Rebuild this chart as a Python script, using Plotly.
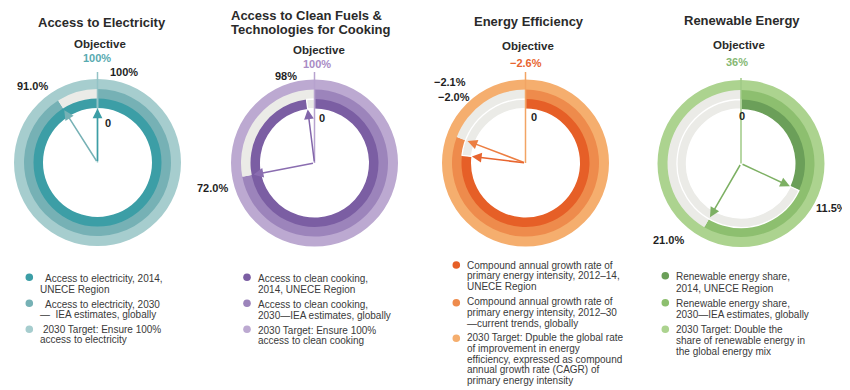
import math
import plotly.graph_objects as go

W, H = 850, 390
OFF = 8  # the page body margin: screen pixel = figure pixel + OFF
FONT = "Liberation Sans, Arial, sans-serif"

# ---------------- data ----------------
PANEL_TITLES = ["Access to Electricity",
                "Access to Clean Fuels &|Technologies for Cooking",
                "Energy Efficiency",
                "Renewable Energy"]
VALUE_2014 = [100.0, 98.0, -2.0, 11.5]      # inner ring (UNECE region)
VALUE_2030 = [91.0, 72.0, -2.1, 21.0]       # middle ring (global estimates / trends)
TARGET = [100.0, 100.0, -2.6, 36.0]         # outer ring (2030 objective)
LABEL_2014 = ["100%", "98%", "\u22122.0%", "11.5%"]
LABEL_2030 = ["91.0%", "72.0%", "\u22122.1%", "21.0%"]
LABEL_TARGET = ["100%", "100%", "\u22122.6%", "36%"]
START_LABEL = ["0", "0", "0", "0"]
LEGEND_TEXT = [
    [["Access to electricity, 2014,", "UNECE Region"],
     ["Access to electricity, 2030", "\u2014  IEA estimates, globally"],
     ["2030 Target: Ensure 100%", "access to electricity"]],
    [["Access to clean cooking,", "2014, UNECE Region"],
     ["Access to clean cooking,", "2030\u2014IEA estimates, globally"],
     ["2030 Target: Ensure 100%", "access to clean cooking"]],
    [["Compound annual growth rate of", "primary energy intensity, 2012\u201314,", "UNECE Region"],
     ["Compound annual growth rate of", "primary energy intensity, 2012\u201330", "\u2014current trends, globally"],
     ["2030 Target: Dpuble the global rate", "of improvement in energy",
      "efficiency, expressed as compound", "annual growth rate (CAGR) of",
      "primary energy intensity"]],
    [["Renewable energy share,", "2014, UNECE Region"],
     ["Renewable energy share,", "2030\u2014IEA estimates, globally"],
     ["2030 Target: Double the", "share of renewable energy in", "the global energy mix"]],
]

# ---------------- style / layout ----------------
COL_INNER = ["#3c9ea6", "#7b5ea3", "#e65f27", "#6b9f59"]
COL_MIDDLE = ["#76b1b5", "#9c84bb", "#ee8b4c", "#8dbf6f"]
COL_OUTER = ["#a6cdce", "#bca9d1", "#f5ae6e", "#acd38f"]
COL_OBJ_TEXT = ["#58aab0", "#a98bc5", "#e8652f", "#86b873"]
COL_LINE = ["#93c3c6", "#b7a2ce", "#f2a464", "#9fca86"]
ARROW_INNER = ["#3c9ea6", "#8266aa", "#e8652f", "#7db063"]
ARROW_MIDDLE = ["#76b1b5", "#8a6db0", "#ec7e42", "#7db063"]
GAP = "#ebebe7"
CENTERS = [(97.5, 162.5), (314.5, 163.0), (525.5, 163.0), (741.0, 163.5)]
R_OUT, R_MID, R_IN, R_HOLE = 83.5, 73.5, 64.0, 54.5
TIP_INNER, TIP_MIDDLE = 54.0, 62.0
LINE_TOP = [72, 72, 72, 78]

TITLE_POS = [[(102, 22.5, "center")], [(229, 15, "left"), (229, 29.5, "left")],
             [(529, 21, "center")], [(742, 20.5, "center")]]
OBJ_POS = [(100, 43.5), (318.5, 50), (528, 46), (739, 45)]
OBJ_VAL_POS = [(96.5, 57.5), (316.5, 64), (526, 62.5), (736.5, 62)]
L2014_POS = [(124, 72), (286, 75.5), (454, 97), (831, 208)]
L2030_POS = [(32, 86), (212, 188), (450, 82), (668, 240)]
START_POS = [(108, 122.5), (322, 117.5), (534, 117), (742, 116)]

SWATCH_X = [29.3, 247, 456.3, 665.3]
SWATCH_Y = [[277.3, 303.3, 329.3], [277.3, 303.3, 329.3],
            [265, 302.7, 338.3], [275.7, 302.7, 329.3]]
LEG_X = [[[43.3, 38.3], [42.7, 38.3], [40.7, 38.3]],
         [[256, 256], [256, 256], [256, 256]],
         [[464.7] * 3, [464.7] * 3, [464.7] * 5],
         [[673.7] * 2, [673.7] * 2, [673.7] * 3]]
LEG_Y = [[[278.3, 289.3], [304.3, 314.5], [329.5, 339.5]],
         [[278.3, 289.3], [304.3, 315], [330, 340.7]],
         [[265, 275.7, 286.3], [301.7, 312.3, 323], [337.7, 348.3, 359, 369.7, 380.3]],
         [[276.7, 288.7], [303.3, 314], [329.7, 340.3, 351]]]

fig = go.Figure()


def ring(cx, cy, r_in, r_out, value, total, color, gap_line=0.0):
    v = abs(value)
    t = abs(total)
    fx, fy = cx - OFF, cy - OFF
    return go.Pie(
        values=[v, max(t - v, 0.0)],
        marker=dict(colors=[color, GAP], line=dict(color="white", width=[0, gap_line])),
        hole=r_in / r_out,
        domain=dict(x=[(fx - r_out) / W, (fx + r_out) / W],
                    y=[1 - (fy + r_out) / H, 1 - (fy - r_out) / H]),
        sort=False, direction="clockwise", rotation=0,
        textinfo="none", hoverinfo="skip", showlegend=False,
    )


shapes = []
annotations = []


def text(x, y, s, size, color, bold=False, anchor="center"):
    annotations.append(dict(
        x=x, y=y, xref="x", yref="y", text=("<b>%s</b>" % s) if bold else s,
        showarrow=False, xanchor=anchor, yanchor="middle",
        font=dict(family=FONT, size=size, color=color)))


for i in range(4):
    cx, cy = CENTERS[i]
    # rings: outer (target), middle (2030), inner (2014); slight overlap to avoid seams
    fig.add_trace(ring(cx, cy, R_MID - 1.0, R_OUT, TARGET[i], TARGET[i], COL_OUTER[i]))
    fig.add_trace(ring(cx, cy, R_IN - 1.0, R_MID, VALUE_2030[i], TARGET[i], COL_MIDDLE[i]))
    fig.add_trace(ring(cx, cy, R_HOLE, R_IN, VALUE_2014[i], TARGET[i], COL_INNER[i], 1.3))

    # objective line at 12 o'clock
    shapes.append(dict(type="line", xref="x", yref="y", x0=cx, y0=cy, x1=cx, y1=LINE_TOP[i],
                       line=dict(color=COL_LINE[i], width=1.5)))

    # arrows from the centre to each value
    for val, tip, col in ((VALUE_2030[i], TIP_MIDDLE, ARROW_MIDDLE[i]),
                          (VALUE_2014[i], TIP_INNER, ARROW_INNER[i])):
        ang = abs(val) / abs(TARGET[i]) * 2 * math.pi
        tx = cx + tip * math.sin(ang)
        ty = cy - tip * math.cos(ang)
        annotations.append(dict(
            x=tx, y=ty, ax=cx, ay=cy, xref="x", yref="y", axref="x", ayref="y",
            text="", showarrow=True, arrowhead=2, arrowsize=1.3, arrowwidth=1.5,
            arrowcolor=col, standoff=0, startstandoff=0))

    # titles
    parts = PANEL_TITLES[i].split("|")
    for (px, py, anc), s in zip(TITLE_POS[i], parts):
        text(px, py, s, 13, "#2a2a2a", bold=True, anchor=anc)

    text(*OBJ_POS[i], "Objective", 11.5, "#2a2a2a", bold=True)
    text(*OBJ_VAL_POS[i], LABEL_TARGET[i], 11, COL_OBJ_TEXT[i], bold=True)
    text(*L2014_POS[i], LABEL_2014[i], 11, "#1f1f1f", bold=True)
    text(*L2030_POS[i], LABEL_2030[i], 11, "#1f1f1f", bold=True)
    text(*START_POS[i], START_LABEL[i], 11, "#1f1f1f", bold=True)

    # legend
    sw_cols = [COL_INNER[i], COL_MIDDLE[i], COL_OUTER[i]]
    for k in range(3):
        sx, sy = SWATCH_X[i], SWATCH_Y[i][k]
        shapes.append(dict(type="circle", xref="x", yref="y", x0=sx - 3.8, x1=sx + 3.8,
                           y0=sy - 3.8, y1=sy + 3.8, fillcolor=sw_cols[k],
                           line=dict(width=0)))
        for line_txt, lx, ly in zip(LEGEND_TEXT[i][k], LEG_X[i][k], LEG_Y[i][k]):
            text(lx, ly, line_txt, 10, "#3a3a3a", anchor="left")

fig.update_layout(
    width=W, height=H,
    margin=dict(l=0, r=0, t=0, b=0, pad=0),
    paper_bgcolor="white", plot_bgcolor="rgba(0,0,0,0)",
    xaxis=dict(range=[OFF, W + OFF], visible=False, fixedrange=True, domain=[0, 1]),
    yaxis=dict(range=[H + OFF, OFF], visible=False, fixedrange=True, domain=[0, 1]),
    shapes=shapes, annotations=annotations, showlegend=False,
)

fig.write_html("out.html")
